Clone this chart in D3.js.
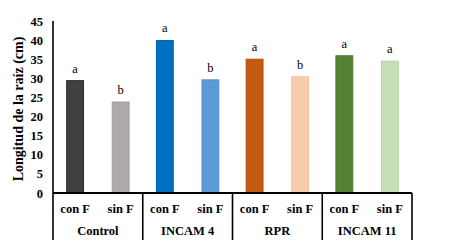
<!DOCTYPE html>
<html><head><meta charset="utf-8">
<script src="https://cdn.jsdelivr.net/npm/d3@7"></script>
<style>body{margin:0;background:#fff}svg{display:block}</style>
</head><body>
<svg id="c" width="450" height="242"></svg>
<script>
const groups = ["Control", "INCAM 4", "RPR", "INCAM 11"];
const treatments = ["con F", "sin F"];
const values = [29.4, 23.8, 39.9, 29.6, 35.0, 30.4, 35.9, 34.5];
const letters = ["a", "b", "a", "b", "a", "b", "a", "a"];
const fills = ["#404040", "#AEAAAA", "#0070C0", "#5B9BD5", "#C55A11", "#F8CBAD", "#548235", "#C5E0B4"];
const strokes = ["#2b2b2b", "#a09c9c", "#0062a8", "#5290c8", "#b04e0c", "#f0c0a0", "#4a742e", "#b9d6a6"];
const yTicks = [0, 5, 10, 15, 20, 25, 30, 35, 40, 45];
const yTitle = "Longitud de la raíz (cm)";

(function () {
const svg = d3.select("#c");
const mLeft = 53, mRight = 412, mTop = 21, base = 193;
const serif = "'Liberation Serif','Times New Roman','DejaVu Serif',serif";

const y = d3.scaleLinear().domain([0, 45]).range([base, mTop]);
const xg = d3.scaleBand().domain(groups).range([mLeft, mRight]).padding(0);
const xt = d3.scaleBand().domain(treatments).range([0, xg.bandwidth()]).paddingInner(0.63).paddingOuter(0.3);

const data = values.map((v, i) => ({g: groups[Math.floor(i / 2)], t: treatments[i % 2], v, l: letters[i], f: fills[i], s: strokes[i]}));

svg.selectAll("rect.bar").data(data).join("rect")
  .attr("x", d => xg(d.g) + xt(d.t))
  .attr("y", d => y(d.v))
  .attr("width", xt.bandwidth())
  .attr("height", d => base - y(d.v))
  .attr("fill", d => d.f)
  .attr("stroke", d => d.s)
  .attr("stroke-width", 1);

svg.selectAll("text.lt").data(data).join("text")
  .attr("x", d => xg(d.g) + xt(d.t) + xt.bandwidth() / 2)
  .attr("y", d => y(d.v) - 8)
  .attr("text-anchor", "middle")
  .attr("font-family", serif).attr("font-size", 12.5)
  .text(d => d.l);

const ya = svg.append("g").attr("transform", `translate(${mLeft},0)`)
  .call(d3.axisLeft(y).tickValues(yTicks).tickSize(0).tickPadding(10));
ya.select(".domain").remove();
ya.selectAll("text").attr("font-family", serif).attr("font-size", 12.5).attr("font-weight", "bold").attr("fill", "#000");
svg.append("line").attr("x1", mLeft).attr("x2", mLeft).attr("y1", mTop).attr("y2", 240)
  .attr("stroke", "#000").attr("stroke-width", 1.6);

svg.append("line").attr("x1", mLeft).attr("x2", mRight).attr("y1", base).attr("y2", base)
  .attr("stroke", "#000").attr("stroke-width", 2);

svg.selectAll("line.sep").data(groups).join("line")
  .attr("x1", d => xg(d) + xg.bandwidth()).attr("x2", d => xg(d) + xg.bandwidth())
  .attr("y1", base).attr("y2", 240)
  .attr("stroke", "#000").attr("stroke-width", 1.6);

svg.selectAll("text.tl").data(data).join("text")
  .attr("x", d => xg(d.g) + xt(d.t) + xt.bandwidth() / 2)
  .attr("y", 213)
  .attr("text-anchor", "middle")
  .attr("font-family", serif).attr("font-size", 12.5).attr("font-weight", "bold")
  .text(d => d.t);

svg.selectAll("text.gl").data(groups).join("text")
  .attr("x", d => xg(d) + xg.bandwidth() / 2)
  .attr("y", 235)
  .attr("text-anchor", "middle")
  .attr("font-family", serif).attr("font-size", 12.5).attr("font-weight", "bold")
  .text(d => d);

svg.append("text")
  .attr("transform", `translate(23,${(mTop + base) / 2 + 2}) rotate(-90)`)
  .attr("text-anchor", "middle")
  .attr("font-family", serif).attr("font-size", 14).attr("font-weight", "bold")
  .text(yTitle);
})();
</script>
</body></html>
